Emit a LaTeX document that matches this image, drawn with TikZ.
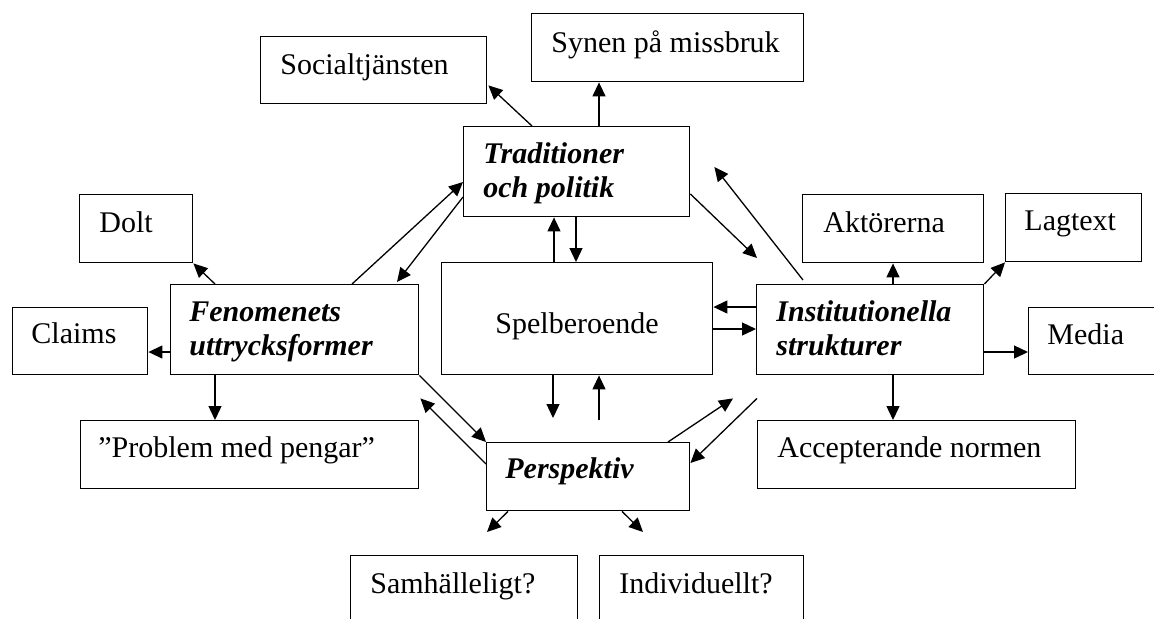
\documentclass[tikz,border=0pt]{standalone}
\usepackage{fontspec}
\setmainfont{Liberation Serif}
\usetikzlibrary{calc}
\usetikzlibrary{arrows.meta}
\tikzset{Box/.style={draw, line width=0.7pt, inner sep=0pt, anchor=north west},
         Lbl/.style={anchor=base west, inner sep=0pt, font=\fontsize{15pt}{17pt}\selectfont},
         Key/.style={Lbl, font=\fontsize{15pt}{17pt}\selectfont\bfseries\itshape},
         Arr/.style={-{Triangle[length=7pt,width=6.5pt]}, line width=0.65pt}}
\newcommand{\twolines}[2]{\parbox[t]{120pt}{#1\\#2}}

\begin{document}
\begin{tikzpicture}[x=0.5pt, y=-0.5pt]
  \useasboundingbox (0,0) rectangle (1154,618);
  \clip (0,0) rectangle (1154,618);
    % the four themes and the core
    \node[Box, minimum width=113pt, minimum height=45pt] (Trad) at (463,126) {};
    \node[Box, minimum width=124pt, minimum height=45pt] (Fen) at (170,284) {};
    \node[Box, minimum width=113.5pt, minimum height=45pt] (Inst) at (756,284) {};
    \node[Box, minimum width=101.5pt, minimum height=34pt] (Persp) at (486,442) {};
    \node[Box, minimum width=135.5pt, minimum height=56pt] (Spel) at (441,262) {};
    % outer boxes
    \node[Box, minimum width=113pt, minimum height=33.5pt] (Soc) at (260,36) {};
    \node[Box, minimum width=136pt, minimum height=34pt] (Syn) at (531,13) {};
    \node[Box, minimum width=56.5pt, minimum height=34pt] (Dolt) at (79,194) {};
    \node[Box, minimum width=67.5pt, minimum height=33.5pt] (Claims) at (12,307) {};
    \node[Box, minimum width=169pt, minimum height=34pt] (Prob) at (80,420) {};
    \node[Box, minimum width=90.5pt, minimum height=34pt] (Akt) at (802,194) {};
    \node[Box, minimum width=68pt, minimum height=34pt] (Lag) at (1005,193) {};
    \node[Box, minimum width=75pt, minimum height=33.5pt] (Media) at (1028,307) {};
    \node[Box, minimum width=159pt, minimum height=34pt] (Acc) at (757,420) {};
    \node[Box, minimum width=113.5pt, minimum height=45pt] (Samh) at (350,555) {};
    \node[Box, minimum width=102pt, minimum height=45pt] (Indiv) at (599,555) {};
    % texts
    \node[Key] (TradT) at ($(Trad.north west)+(20,37)$) {\twolines{Traditioner}{och politik}};
    \node[Key] (FenT) at ($(Fen.north west)+(19,37)$) {\twolines{Fenomenets}{uttrycksformer}};
    \node[Key] (InstT) at ($(Inst.north west)+(20,37)$) {\twolines{Institutionella}{strukturer}};
    \node[Key] (PerspT) at ($(Persp.north west)+(19,36)$) {Perspektiv};
    \node[Lbl] (SpelT) at ($(Spel.north west)+(54,71)$) {Spelberoende};
    \node[Lbl] (SocT) at ($(Soc.north west)+(20,38)$) {Socialtjänsten};
    \node[Lbl] (SynT) at ($(Syn.north west)+(20,39)$) {Synen på missbruk};
    \node[Lbl] (DoltT) at ($(Dolt.north west)+(20,38)$) {Dolt};
    \node[Lbl] (ClaimsT) at ($(Claims.north west)+(19,36)$) {Claims};
    \node[Lbl] (ProbT) at ($(Prob.north west)+(18,37)$) {”Problem med pengar”};
    \node[Lbl] (AktT) at ($(Akt.north west)+(21,38)$) {Aktörerna};
    \node[Lbl] (LagT) at ($(Lag.north west)+(19,37)$) {Lagtext};
    \node[Lbl] (MediaT) at ($(Media.north west)+(19,37)$) {Media};
    \node[Lbl] (AccT) at ($(Acc.north west)+(20,37)$) {Accepterande normen};
    \node[Lbl] (SamhT) at ($(Samh.north west)+(20,38)$) {Samhälleligt?};
    \node[Lbl] (IndivT) at ($(Indiv.north west)+(20,38)$) {Individuellt?};
    % free arrow ends
    \coordinate (TI) at ($(Inst.north west)+(1,-26)$);
    \coordinate (IT) at ($(Trad.north east)+(24,41)$);
    \coordinate (SP) at ($(Persp.north west)+(67,-24)$);
    \coordinate (PI) at ($(Inst.south west)+(-23,23)$);
    \coordinate (PS) at ($(Samh.north west)+(137,-23)$);
    \coordinate (PIn) at ($(Indiv.north west)+(44,-23)$);
  \draw[Arr] ($(Trad.north west)+(69,0)$) -- ($(Soc.south east)+(1,-19)$);
  \draw[Arr] ($(Trad.north west)+(136,0)$) -- ($(Syn.south west)+(68,0)$);
  \draw[Arr] ($(Fen.north west)+(45,0)$) -- (Dolt.south east);
  \draw[Arr] ($(Fen.north west)+(182,0)$) -- ($(Trad.north west)+(0,56)$);
  \draw[Arr] ($(Trad.north west)+(0,71)$) -- ($(Fen.north west)+(227,-2)$);
  \draw[Arr] ($(Spel.north west)+(113,0)$) -- ($(Trad.south west)+(91,0)$);
  \draw[Arr] ($(Trad.south west)+(113,0)$) -- ($(Spel.north west)+(135,0)$);
  \draw[Arr] ($(Trad.north east)+(0,68)$) -- (TI);
  \draw[Arr] ($(Inst.north west)+(47,-4)$) -- (IT);
  \draw[Arr] ($(Inst.north west)+(137,0)$) -- ($(Akt.south west)+(91,0)$);
  \draw[Arr] (Inst.north east) -- (Lag.south west);
  \draw[Arr] ($(Inst.north west)+(0,23)$) -- ($(Spel.north east)+(0,45)$);
  \draw[Arr] ($(Spel.north east)+(0,67)$) -- ($(Inst.north west)+(0,45)$);
  \draw[Arr] ($(Inst.north east)+(0,68)$) -- ($(Media.north west)+(0,45)$);
  \draw[Arr] ($(Inst.south west)+(137,0)$) -- ($(Acc.north west)+(136,0)$);
  \draw[Arr] ($(Fen.north west)+(0,68)$) -- ($(Claims.north east)+(0,45)$);
  \draw[Arr] ($(Fen.south west)+(45,0)$) -- ($(Prob.north west)+(135,0)$);
  \draw[Arr] (Fen.south east) -- (Persp.north west);
  \draw[Arr] ($(Persp.north west)+(0,22)$) -- ($(Fen.south east)+(1,23)$);
  \draw[Arr] ($(Spel.south west)+(112,0)$) -- (SP);
  \draw[Arr] ($(Persp.north west)+(113,-22)$) -- ($(Spel.south west)+(158,0)$);
  \draw[Arr] ($(Persp.north west)+(182,0)$) -- (PI);
  \draw[Arr] ($(Inst.south west)+(1,23)$) -- ($(Persp.north east)+(0,21)$);
  \draw[Arr] ($(Persp.south west)+(22,0)$) -- (PS);
  \draw[Arr] ($(Persp.south west)+(136,0)$) -- (PIn);
\end{tikzpicture}
\end{document}
